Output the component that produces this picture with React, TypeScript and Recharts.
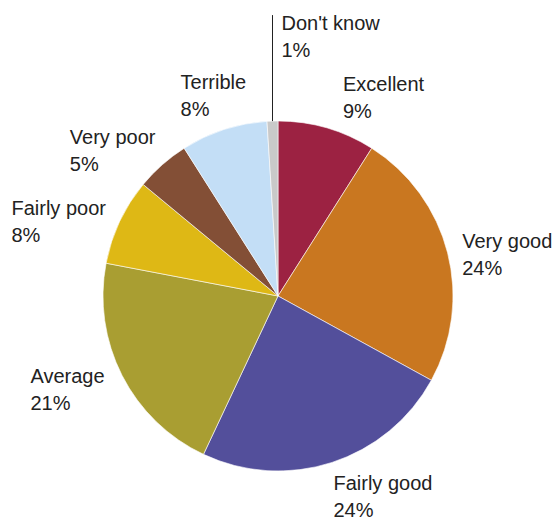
import React from "react";
import { PieChart, Pie, Cell } from "recharts";

const categories = ["Excellent", "Very good", "Fairly good", "Average", "Fairly poor", "Very poor", "Terrible", "Don't know"];
const shares = [9, 24, 24, 21, 8, 5, 8, 1];
const colors = ["#9C2242", "#C97720", "#534F9B", "#A99E32", "#DEB815", "#834F36", "#C3DEF6", "#C9C9C9"];

// label layout nudges (px) relative to a point just outside the pie on each slice's mid angle
const labelNudge: Record<string, [number, number]> = {
  "Excellent": [5, 1],
  "Very good": [-24, 5.5],
  "Fairly good": [-11, -10],
  "Average": [-56, -11],
  "Fairly poor": [-72, 11],
  "Very poor": [-66, 9],
  "Terrible": [-31, -3],
};

const data = categories.map((name, i) => ({ name, value: shares[i] }));

const RAD = Math.PI / 180;
const FONT = "'Liberation Sans', Arial, Helvetica, sans-serif";
const LINE = 27;

function renderLabel(props: any) {
  const { cx, cy, midAngle, outerRadius, name, value } = props;
  const cos = Math.cos(-midAngle * RAD);
  const sin = Math.sin(-midAngle * RAD);
  if (name === "Don't know") {
    const ex = cx + outerRadius * cos;
    const ey = cy + outerRadius * sin;
    const topY = ey - 106;
    return (
      <g>
        <line x1={ex} y1={ey} x2={ex} y2={topY} stroke="#222" strokeWidth={1} />
        <text x={ex + 9} y={topY + 14.5} fill="#222" fontSize={20} fontFamily={FONT}>
          <tspan x={ex + 9}>{name}</tspan>
          <tspan x={ex + 9} dy={LINE}>{`${value}%`}</tspan>
        </text>
      </g>
    );
  }
  const r = outerRadius + 40;
  const [dx, dy] = labelNudge[name] || [0, 0];
  const x = cx + r * cos + dx;
  const y = cy + r * sin + dy;
  return (
    <text x={x} y={y} fill="#222" fontSize={20} fontFamily={FONT}>
      <tspan x={x}>{name}</tspan>
      <tspan x={x} dy={LINE}>{`${value}%`}</tspan>
    </text>
  );
}

export default function App() {
  return (
    <div style={{ width: 557, height: 518, overflow: "hidden", background: "#fff" }}>
      <style>{"html,body{margin:0;padding:0;}"}</style>
      <PieChart width={557} height={518} margin={{ top: 0, right: 0, bottom: 0, left: 0 }}>
        <Pie
          data={data}
          dataKey="value"
          nameKey="name"
          cx={278}
          cy={296}
          outerRadius={175}
          startAngle={90}
          endAngle={-270}
          stroke="#ffffff"
          strokeWidth={0.6}
          label={renderLabel}
          labelLine={false}
          isAnimationActive={false}
        >
          {data.map((d, i) => (
            <Cell key={d.name} fill={colors[i]} />
          ))}
        </Pie>
      </PieChart>
    </div>
  );
}
